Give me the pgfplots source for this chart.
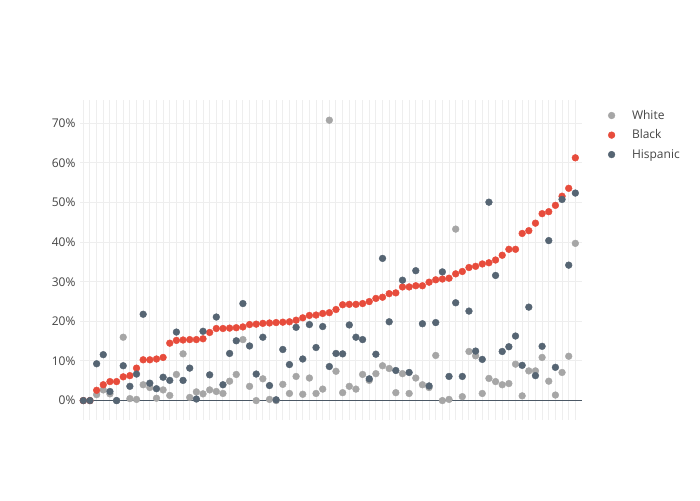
\documentclass[border=0pt]{standalone}
\usepackage{fontspec}
\setmainfont{Open Sans}
\usepackage{pgfplots}
\usepackage{pgfplotstable}
\pgfplotsset{compat=1.18}

\definecolor{whitec}{HTML}{A6A6A6}
\definecolor{blackc}{HTML}{E74C3C}
\definecolor{hispc}{HTML}{566573}
\definecolor{gridc}{HTML}{EEEEEE}
\definecolor{zeroc}{HTML}{4B5865}
\definecolor{textc}{HTML}{444444}

% share of each group, one row per category, sorted by the Black share
\pgfplotstableread{
i white black hisp
0 0 0 0
1 0 0 0
2 1.5 2.6 9.3
3 2.7 4.0 11.6
4 1.7 4.8 2.3
5 0 4.8 0
6 16.0 6.0 8.8
7 0.5 6.3 3.6
8 0.3 8.2 6.7
9 4.0 10.3 21.8
10 3.3 10.3 4.4
11 0.6 10.5 3.0
12 2.7 10.9 5.9
13 1.3 14.5 5.1
14 6.6 15.2 17.3
15 11.8 15.3 5.1
16 0.8 15.4 8.2
17 2.2 15.4 0.4
18 1.7 15.6 17.5
19 2.7 17.2 6.5
20 2.3 18.2 21.1
21 1.8 18.2 4.0
22 4.9 18.3 11.9
23 6.6 18.4 15.1
24 15.4 18.6 24.5
25 3.6 19.2 13.8
26 0 19.3 6.7
27 5.5 19.5 16.0
28 0.3 19.6 3.8
29 0 19.7 0.2
30 4.1 19.8 12.9
31 1.8 19.9 9.1
32 6.1 20.3 18.5
33 1.6 20.9 10.5
34 5.7 21.5 19.2
35 1.8 21.6 13.4
36 2.9 22.0 18.7
37 70.8 22.2 8.6
38 7.4 23.0 11.9
39 2.0 24.2 11.8
40 3.6 24.3 19.1
41 2.9 24.3 16.0
42 6.6 24.5 15.4
43 5.1 25.0 5.5
44 6.8 25.8 11.7
45 8.8 26.1 35.9
46 8.1 27.0 19.9
47 2.0 27.2 7.6
48 6.8 28.7 30.4
49 1.8 28.7 7.1
50 5.7 29.0 32.8
51 4.0 29.0 19.4
52 3.3 29.9 3.7
53 11.4 30.5 19.7
54 0 30.7 32.5
55 0.3 30.9 6.1
56 43.3 32.0 24.7
57 1.0 32.6 6.1
58 12.4 33.6 22.6
59 11.3 33.9 12.5
60 1.8 34.5 10.4
61 5.6 34.8 50.1
62 4.8 35.5 31.6
63 4.0 36.7 12.4
64 4.3 38.2 13.6
65 9.2 38.2 16.3
66 1.2 42.2 8.9
67 7.5 42.9 23.6
68 7.5 44.8 6.3
69 10.9 47.2 13.7
70 4.9 47.7 40.4
71 1.4 49.3 8.4
72 7.1 51.6 50.8
73 11.2 53.6 34.2
74 39.7 61.3 52.4
}\racedata

\begin{document}
\begin{tikzpicture}
\path[use as bounding box] (0pt,0pt) rectangle (700pt,500pt);
\begin{axis}[
    at={(80pt,80pt)}, anchor=south west,
    width=502pt, height=320pt,
    scale only axis,
    clip=false,
    xmin=-0.5, xmax=75,
    ymin=-4.9, ymax=75.9,
    axis line style={draw=none},
    major tick length=0pt,
    xtick={0,...,74},
    xticklabels={},
    ytick={10,20,...,70},
    extra y ticks={0},
    extra y tick style={grid style={color=zeroc, line width=1.2pt}},
    yticklabel={\pgfmathprintnumber{\tick}\%},
    /pgf/number format/assume math mode=true,
    ticklabel style={font=\fontsize{12}{14}\selectfont, text=textc},
    yticklabel style={xshift=-1pt},
    grid=major,
    grid style={color=gridc, line width=1pt},
    legend cell align=left,
    legend style={
        at={(1,1)}, anchor=north west,
        xshift=26pt, yshift=-8pt,
        draw=none, fill=none, inner sep=0pt,
        font=\fontsize{12}{14}\selectfont, text=textc,
        row sep=5pt, column sep=15pt,
    },
    legend image code/.code={\draw plot coordinates {(0pt,0pt)};},
]
\addplot[only marks, mark=*, mark size=3.4pt, color=whitec]
    table[x=i, y=white] {\racedata};
\addlegendentry{White}
\addplot[only marks, mark=*, mark size=3.4pt, color=blackc]
    table[x=i, y=black] {\racedata};
\addlegendentry{Black}
\addplot[only marks, mark=*, mark size=3.4pt, color=hispc]
    table[x=i, y=hisp] {\racedata};
\addlegendentry{Hispanic}
\end{axis}
\end{tikzpicture}
\end{document}
